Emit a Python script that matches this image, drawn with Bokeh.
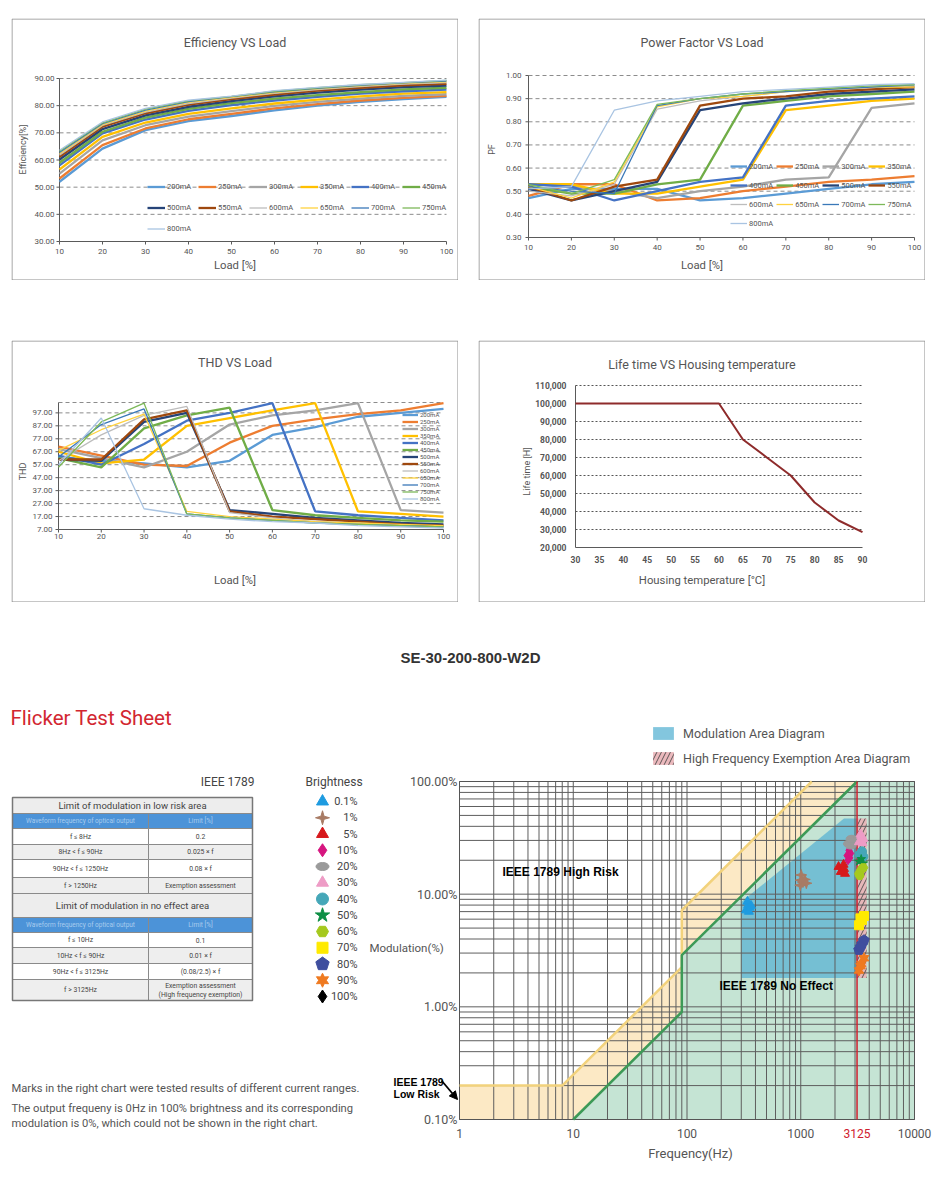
import math
from bokeh.plotting import figure
from bokeh.models import Range1d, Legend, LegendItem, Arrow, NormalHead, Spacer
from bokeh.layouts import row, column
from bokeh.core.properties import value
from bokeh.embed import file_html
from bokeh.resources import INLINE

FONT = "Roboto"
BFONT = "Liberation Sans"
TXT = "#555555"
AX = "#5a5a5a"

# ------------------------------------------------------------------ data
load = [10, 20, 30, 40, 50, 60, 70, 80, 90, 100]
currents = ["200mA", "250mA", "300mA", "350mA", "400mA", "450mA", "500mA",
            "550mA", "600mA", "650mA", "700mA", "750mA", "800mA"]

eff_200 = [52.0, 64.2, 71.0, 74.3, 76.2, 78.3, 80.0, 81.4, 82.4, 83.2]
eff_250 = [53.2, 65.5, 71.6, 75.0, 77.0, 79.0, 80.6, 81.9, 82.9, 83.6]
eff_300 = [55.0, 67.2, 72.8, 76.0, 78.0, 79.9, 81.4, 82.6, 83.6, 84.2]
eff_350 = [56.5, 68.5, 73.8, 77.0, 79.0, 80.8, 82.2, 83.4, 84.4, 85.0]
eff_400 = [58.0, 69.8, 74.9, 78.1, 80.2, 81.9, 83.2, 84.4, 85.3, 85.9]
eff_450 = [59.0, 70.4, 75.6, 78.8, 80.9, 82.6, 83.9, 85.0, 86.0, 86.6]
eff_500 = [60.2, 71.4, 76.4, 79.6, 81.7, 83.4, 84.8, 85.9, 86.8, 87.4]
eff_550 = [61.2, 72.3, 77.2, 80.4, 82.4, 84.1, 85.5, 86.6, 87.5, 88.0]
eff_600 = [61.8, 72.7, 77.6, 80.8, 82.8, 84.5, 85.9, 87.0, 87.9, 88.5]
eff_650 = [62.3, 73.0, 78.0, 81.2, 83.1, 84.8, 86.2, 87.3, 88.2, 88.8]
eff_700 = [62.8, 73.4, 78.4, 81.5, 83.3, 85.1, 86.4, 87.5, 88.4, 89.0]
eff_750 = [63.2, 73.7, 78.7, 81.8, 83.4, 85.3, 86.6, 87.7, 88.5, 89.3]
eff_800 = [63.6, 74.0, 79.0, 82.0, 83.5, 85.5, 86.7, 87.8, 88.6, 89.4]

pf_200 = [0.47, 0.51, 0.51, 0.51, 0.46, 0.47, 0.49, 0.51, 0.53, 0.54]
pf_250 = [0.48, 0.53, 0.53, 0.46, 0.47, 0.50, 0.52, 0.54, 0.55, 0.565]
pf_300 = [0.51, 0.52, 0.50, 0.47, 0.50, 0.52, 0.55, 0.56, 0.86, 0.88]
pf_350 = [0.53, 0.53, 0.49, 0.49, 0.52, 0.55, 0.85, 0.87, 0.89, 0.90]
pf_400 = [0.53, 0.52, 0.46, 0.50, 0.54, 0.56, 0.87, 0.89, 0.90, 0.91]
pf_450 = [0.52, 0.49, 0.49, 0.53, 0.55, 0.87, 0.89, 0.91, 0.92, 0.93]
pf_500 = [0.51, 0.46, 0.50, 0.54, 0.85, 0.88, 0.90, 0.92, 0.93, 0.94]
pf_550 = [0.52, 0.46, 0.52, 0.55, 0.87, 0.90, 0.91, 0.93, 0.94, 0.95]
pf_600 = [0.50, 0.48, 0.53, 0.855, 0.89, 0.91, 0.93, 0.94, 0.95, 0.955]
pf_650 = [0.52, 0.47, 0.54, 0.865, 0.90, 0.91, 0.93, 0.94, 0.95, 0.95]
pf_700 = [0.52, 0.50, 0.49, 0.87, 0.90, 0.92, 0.93, 0.94, 0.95, 0.96]
pf_750 = [0.53, 0.49, 0.55, 0.875, 0.90, 0.92, 0.935, 0.945, 0.955, 0.96]
pf_800 = [0.51, 0.52, 0.85, 0.89, 0.91, 0.93, 0.94, 0.95, 0.96, 0.965]

thd_200 = [63, 60, 58, 55, 60, 80, 86, 94, 97, 100]
thd_250 = [71, 64, 57, 56, 74, 87, 92, 96, 99, 104.5]
thd_300 = [69, 62, 55, 67, 88, 95, 99, 104.5, 22, 20]
thd_350 = [67, 58, 61, 87, 93, 99, 104.5, 21, 19, 17]
thd_400 = [64, 57, 73, 91, 97, 104.5, 21, 18, 16, 14]
thd_450 = [62, 55, 85, 95, 101, 22, 18, 16, 14, 13]
thd_500 = [61, 60, 90, 97, 22, 19, 16, 14, 12, 11]
thd_550 = [61, 61, 92, 99, 21, 17, 15, 13, 11, 10]
thd_600 = [60, 80, 95, 102, 20, 16, 13, 12, 10, 9]
thd_650 = [68, 84, 96, 21, 17, 15, 13, 12, 11, 10]
thd_700 = [63, 88, 100, 19, 16, 14, 12, 11, 10, 9]
thd_750 = [55, 90, 104.5, 19, 16, 14, 12, 11, 10, 9]
thd_800 = [57, 93, 23, 18, 15, 13, 12, 10, 9, 8]

eff_series = [eff_200, eff_250, eff_300, eff_350, eff_400, eff_450, eff_500,
              eff_550, eff_600, eff_650, eff_700, eff_750, eff_800]
pf_series = [pf_200, pf_250, pf_300, pf_350, pf_400, pf_450, pf_500,
             pf_550, pf_600, pf_650, pf_700, pf_750, pf_800]
thd_series = [thd_200, thd_250, thd_300, thd_350, thd_400, thd_450, thd_500,
              thd_550, thd_600, thd_650, thd_700, thd_750, thd_800]

series_colors = ["#5B9BD5", "#ED7D31", "#A5A5A5", "#FFC000", "#4472C4", "#70AD47", "#264478",
                 "#9E480E", "#BDBDBD", "#FFD23F", "#3A78B8", "#7DB95A", "#A9C4E2"]
series_widths = [2.3] * 8 + [1.3] * 5

housing_temp = [30, 35, 40, 45, 50, 55, 60, 65, 70, 75, 80, 85, 90]
life_hours = [100000, 100000, 100000, 100000, 100000, 100000, 100000,
              80000, 70000, 60000, 45000, 35000, 28500]

eff_yticks = [30, 40, 50, 60, 70, 80, 90]
pf_yticks = [0.3, 0.4, 0.5, 0.6, 0.7, 0.8, 0.9, 1.0]
thd_yticks = [7, 17, 27, 37, 47, 57, 67, 77, 87, 97]
thd_top = 105
life_yticks = [20000, 30000, 40000, 50000, 60000, 70000, 80000, 90000, 100000, 110000]

# flicker limits (IEEE 1789)
low_risk_f = [1, 8, 90, 90, 1250]
low_risk_m = [0.2, 0.2, 2.25, 7.2, 100]
no_effect_f = [10, 90, 90, 3125]
no_effect_m = [0.1, 0.9, 2.88, 100]
mod_area_f = [300, 300, 2400, 3125, 3125]
mod_area_m = [1.8, 8.5, 47, 47, 1.8]
exempt_f = [3125, 3800]
exempt_m = [1.8, 47]
freq_ticks = [1, 10, 100, 1000, 10000]
freq_exempt = 3125
mod_ticks = [0.1, 1, 10, 100]

# measured flicker points per brightness
b01_f = [330, 345, 356, 340, 366, 350]
b01_m = [7.2, 8.0, 7.6, 8.6, 7.9, 7.0]
b1_f = [990, 1010, 1045, 1085, 1120, 1000]
b1_m = [12.0, 14.8, 12.8, 13.5, 12.5, 13.3]
b5_f = [2150, 2300, 2380, 2450, 2250, 2400]
b5_m = [17.5, 16.0, 18.3, 15.2, 15.8, 16.8]
b10_f = [2550, 2650, 2700, 2600, 2750]
b10_m = [22.0, 24.5, 21.0, 20.0, 23.0]
b20_f = [2650, 2800, 2900, 2750]
b20_m = [28.0, 31.0, 29.5, 27.0]
b30_f = [3250, 3400, 3550, 3350, 3500]
b30_m = [29.0, 33.0, 31.0, 34.0, 28.5]
b40_f = [3300, 3450, 3550]
b40_m = [22.5, 24.0, 21.5]
b50_f = [3250, 3400, 3550]
b50_m = [19.5, 20.5, 18.8]
b60_f = [3250, 3400, 3550, 3300]
b60_m = [15.2, 16.5, 17.2, 14.6]
b70_f = [3250, 3450, 3600, 3350]
b70_m = [5.3, 5.9, 6.4, 6.1]
b80_f = [3250, 3450, 3600, 3350]
b80_m = [3.2, 3.6, 3.9, 3.4]
b90_f = [3250, 3400, 3600, 3350]
b90_m = [2.1, 2.4, 2.7, 2.3]

bright_labels = ["0.1%", "1%", "5%", "10%", "20%", "30%", "40%", "50%", "60%", "70%", "80%", "90%", "100%"]
bright_colors = ["#1E9BE0", "#A87B64", "#D7191C", "#D6157F", "#9A9A9A", "#EE9CC6", "#45A7B8",
                 "#0E8F45", "#A5C91E", "#FFEA00", "#3F4E9E", "#EF7A20", "#000000"]
bright_markers = ["triangle", "star4", "triangle", "diamond", "ellipse", "triangle", "circle",
                  "star", "hex", "square", "pentagon", "star6", "diamond"]

tbl_title_low = "Limit of modulation in low risk area"
tbl_title_ne = "Limit of modulation in no effect area"
tbl_head = ["Waveform frequency of optical output", "Limit [%]"]
low_freq = ["f ≤ 8Hz", "8Hz < f ≤ 90Hz", "90Hz < f ≤ 1250Hz", "f > 1250Hz"]
low_limit = ["0.2", "0.025 × f", "0.08 × f", "Exemption assessment"]
ne_freq = ["f ≤ 10Hz", "10Hz < f ≤ 90Hz", "90Hz < f ≤ 3125Hz", "f > 3125Hz"]
ne_limit = ["0.1", "0.01 × f", "(0.08/2.5) × f", "Exemption assessment"]


# ------------------------------------------------------------------ helpers
def make_fig(ox, oy, w, h, mapx, mapy, xlog=False, ylog=False):
    """Full-frame figure: the plotting frame covers the whole canvas."""
    p = figure(width=w, height=h,
               x_range=Range1d(mapx(ox), mapx(ox + w)), y_range=Range1d(mapy(oy + h), mapy(oy)),
               x_axis_type="log" if xlog else "linear", y_axis_type="log" if ylog else "linear",
               x_axis_location=None, y_axis_location=None, min_border=0,
               output_backend="svg", toolbar_location=None)
    p.outline_line_color = None
    p.grid.visible = False
    p.background_fill_color = "white"
    p.border_fill_color = "white"
    return p


def txt(p, x, y, t, size, color=TXT, align="center", font=FONT, style="normal", angle=0.0):
    p.text(x=[x], y=[y], text=[t], angle=angle, text_align=align, text_baseline="middle",
           text_font=value(font), text_font_size=size, text_color=color, text_font_style=style)


PW, PH = 447, 262


def small_panel(ox, oy, frame, xr, yr, xticks, yticks, ylabels, grid_ticks, grid_dash, grid_color,
                title, title_y, xlabel, xlabel_y, ylabel, ylabel_x, xtick_y, ytick_x,
                tick_size="8px", tick_style="normal", tick_out=3):
    fl, fr, ft, fb = frame

    def mx(px):
        return xr[0] + (px - fl) / (fr - fl) * (xr[1] - xr[0])

    def my_(py):
        return yr[0] + (fb - py) / (fb - ft) * (yr[1] - yr[0])

    p = make_fig(ox, oy, PW, PH, mx, my_)
    # panel border
    p.quad(left=[mx(ox + 0.5)], right=[mx(ox + PW - 0.5)], bottom=[my_(oy + PH - 0.5)],
           top=[my_(oy + 0.5)], fill_color=None, line_color="#8c8c8c", line_width=1)
    # grid
    p.multi_line(xs=[[xr[0], xr[1]] for _ in grid_ticks], ys=[[t, t] for t in grid_ticks],
                 line_color=grid_color, line_dash=grid_dash, line_width=1)
    # axes
    p.line([xr[0], xr[1]], [yr[0], yr[0]], line_color=AX, line_width=1)
    p.line([xr[0], xr[0]], [yr[0], yr[1]], line_color=AX, line_width=1)
    if tick_out:
        p.multi_line(xs=[[t, t] for t in xticks], ys=[[yr[0], my_(fb + tick_out)] for _ in xticks],
                     line_color=AX, line_width=1)
        p.multi_line(xs=[[xr[0], mx(fl - tick_out)] for _ in yticks], ys=[[t, t] for t in yticks],
                     line_color=AX, line_width=1)
    p.text(x=xticks, y=[my_(xtick_y)] * len(xticks), text=[str(t) for t in xticks],
           text_align="center", text_baseline="middle", text_font=value(FONT),
           text_font_size=tick_size, text_color=TXT, text_font_style=tick_style)
    p.text(x=[mx(ytick_x)] * len(yticks), y=yticks, text=ylabels,
           text_align="right", text_baseline="middle", text_font=value(FONT),
           text_font_size=tick_size, text_color=TXT, text_font_style=tick_style)
    txt(p, mx(ox + PW / 2), my_(title_y), title, "12.5px")
    txt(p, mx(ox + PW / 2), my_(xlabel_y), xlabel, "11.3px")
    txt(p, mx(ylabel_x), my_(oy + PH / 2), ylabel, "9px", angle=math.pi / 2)
    return p


def load_lines(p, series):
    rs = []
    for vals, col, w in zip(series, series_colors, series_widths):
        rs.append(p.line(load, vals, line_color=col, line_width=w))
    return rs


def add_legend(p, rs, loc, ncols, gw, gh, spacing, lw, fsize):
    items = [LegendItem(label=c, renderers=[r]) for c, r in zip(currents, rs)]
    lg = Legend(items=items, location=loc, orientation="horizontal" if ncols > 1 else "vertical",
                ncols=ncols, glyph_width=gw, glyph_height=gh, spacing=spacing,
                label_width=lw, label_height=gh, label_standoff=2, padding=0, margin=0,
                border_line_color=None, background_fill_alpha=0,
                label_text_font=FONT, label_text_font_size=fsize, label_text_color=TXT)
    p.add_layout(lg)


# ------------------------------------------------------------------ efficiency
eff = small_panel(11, 18, (59, 446, 78, 241), (10, 100), (30, 90), load, eff_yticks,
                  [f"{t:.2f}" for t in eff_yticks], eff_yticks[1:], "4 3", "#8c8c8c",
                  "Efficiency VS Load", 42, "Load [%]", 265, "Efficiency[%]", 22, 251, 54)
rs = load_lines(eff, eff_series)
add_legend(eff, rs, (136, 43.5), 6, 18, 17, 4, 27, "7.5px")

# ------------------------------------------------------------------ power factor
pf = small_panel(478, 18, (528, 914, 75, 237), (10, 100), (0.3, 1.0), load, pf_yticks,
                 [f"{t:.2f}" for t in pf_yticks], pf_yticks[1:], "4 3", "#8c8c8c",
                 "Power Factor VS Load", 42, "Load [%]", 265, "PF", 491, 247, 521)
rs = load_lines(pf, pf_series)
add_legend(pf, rs, (252, 49), 4, 17, 16, 3, 24, "7.5px")

# ------------------------------------------------------------------ THD
thd = small_panel(11, 340, (58, 443, 402, 529), (10, 100), (7, thd_top), load, thd_yticks,
                  [f"{t:.2f}" for t in thd_yticks], thd_yticks[1:] + [thd_top], "4 3", "#8c8c8c",
                  "THD VS Load", 362, "Load [%]", 580, "THD", 22, 536, 52)
rs = load_lines(thd, thd_series)
add_legend(thd, rs, (391, 100.5), 1, 16, 7, 0, 24, "6px")

# ------------------------------------------------------------------ life time
life = small_panel(478, 340, (575, 862, 385, 547), (30, 90), (20000, 110000), housing_temp, life_yticks,
                   [f"{t:,}" for t in life_yticks], life_yticks[1:], "2 2", "#555555",
                   "Life time VS Housing temperature", 364, "Housing temperature [°C]", 580,
                   "Life time [H]", 526, 559, 566, tick_size="8.5px", tick_style="bold", tick_out=0)
life.line(housing_temp, life_hours, line_color="#8E2B2B", line_width=2)


# ------------------------------------------------------------------ strip title
def ident(v):
    return v


strip = make_fig(8, 602, 922, 88, ident, ident)
txt(strip, 470, 657, "SE-30-200-800-W2D", "15px", color="#333333", font=BFONT, style="bold")

# ------------------------------------------------------------------ lower left (table + legend)
ll = make_fig(8, 690, 360, 490, ident, ident)
txt(ll, 10, 717, "Flicker Test Sheet", "20.5px", color="#D22630", align="left")
txt(ll, 254, 781, "IEEE 1789", "12px", color="#444444", align="right")

T_L, T_M, T_R = 12, 148, 252
row_edges = [797, 813, 828, 844, 859, 877, 893, 917, 932, 947, 963, 979, 1000]
row_kind = ["title", "head", "w", "g", "w", "g", "title", "head", "w", "g", "w", "g"]
fills = {"title": "#EDEDED", "head": "#4C93D8", "w": "#FFFFFF", "g": "#EEEEEE"}
body_rows = list(zip(low_freq, low_limit)) + list(zip(ne_freq, ne_limit))
bi = 0
for k, kind in enumerate(row_kind):
    top, bot = row_edges[k], row_edges[k + 1]
    mid = (top + bot) / 2
    if kind == "title":
        ll.quad(left=[T_L], right=[T_R], top=[top], bottom=[bot], fill_color=fills[kind],
                line_color="#8a8a8a", line_width=1)
        txt(ll, (T_L + T_R) / 2, mid, tbl_title_low if k == 0 else tbl_title_ne, "9.5px", color="#444444")
    else:
        ll.quad(left=[T_L, T_M], right=[T_M, T_R], top=[top, top], bottom=[bot, bot],
                fill_color=fills[kind], line_color="#8a8a8a", line_width=1)
        if kind == "head":
            txt(ll, (T_L + T_M) / 2, mid, tbl_head[0], "6.5px", color="#A9CCEE")
            txt(ll, (T_M + T_R) / 2, mid, tbl_head[1], "6.5px", color="#A9CCEE")
        else:
            fq, lim = body_rows[bi]
            txt(ll, (T_L + T_M) / 2, mid, fq, "6.8px", color="#444444")
            if bi == 7:
                txt(ll, (T_M + T_R) / 2, mid - 4.5, lim, "6.8px", color="#444444")
                txt(ll, (T_M + T_R) / 2, mid + 4.5, "(High frequency exemption)", "6.8px", color="#444444")
            else:
                txt(ll, (T_M + T_R) / 2, mid, lim, "6.8px", color="#444444")
            bi += 1
ll.quad(left=[T_L], right=[T_R], top=[row_edges[0]], bottom=[row_edges[-1]], fill_color=None,
        line_color="#777777", line_width=1.5)

txt(ll, 305, 781, "Brightness", "12px", color="#444444", align="left")


def lin_poly(cx, cy, n, r_out, r_in=None):
    steps = 2 * n if r_in else n
    xs, ys = [], []
    for k in range(steps):
        a = -math.pi / 2 + k * 2 * math.pi / steps
        r = r_out if (r_in is None or k % 2 == 0) else r_in
        xs.append(cx + r * math.cos(a))
        ys.append(cy + r * math.sin(a))
    return xs, ys


LEG_X = 322
SIMPLE = {"triangle": 12, "diamond": 13, "circle": 12, "star": 15, "hex": 12, "square": 11}
for i, (lab, col, mk) in enumerate(zip(bright_labels, bright_colors, bright_markers)):
    y = 801 + i * 16.25
    if mk in SIMPLE:
        ll.scatter([LEG_X], [y], marker=mk, size=SIMPLE[mk], fill_color=col, line_color=col)
    elif mk == "ellipse":
        ll.ellipse(x=[LEG_X], y=[y], width=13, height=8, fill_color=col, line_color=col)
    else:
        n, ro, ri = {"star4": (4, 7, 2.2), "pentagon": (5, 7, None), "star6": (6, 7, 3.8)}[mk]
        xs, ys = lin_poly(LEG_X, y, n, ro, ri)
        ll.patch(xs, ys, fill_color=col, line_color=col)
    txt(ll, 357, y, lab, "11px", color="#444444", align="right")

txt(ll, 11, 1088, "Marks in the right chart were tested results of different current ranges.", "11.2px",
    align="left")
txt(ll, 11, 1108, "The output frequeny is 0Hz in 100% brightness and its corresponding", "11.2px",
    align="left")
txt(ll, 11, 1123, "modulation is 0%, which could not be shown in the right chart.", "11.2px",
    align="left")

# ------------------------------------------------------------------ flicker chart (log-log)
FL, FR, FT, FB = 459, 914, 781, 1119
PXD_X = (FR - FL) / 4.0
PXD_Y = (FB - FT) / 3.0


def fx(px):
    return 10 ** ((px - FL) / PXD_X)


def my(py):
    return 0.1 * 10 ** ((FB - py) / PXD_Y)


ch = make_fig(368, 690, 570, 490, fx, my, xlog=True, ylog=True)
F0, F1 = freq_ticks[0], freq_ticks[-1]
M0, M1 = mod_ticks[0], mod_ticks[-1]

# regions
ch.patch(no_effect_f + [F1, F1], no_effect_m + [M1, M0],
         fill_color="#C5E4D4", line_color=None, level="image")
ch.patch([F0] + low_risk_f + no_effect_f[::-1], [M0] + low_risk_m + no_effect_m[::-1],
         fill_color="#FCE9C5", line_color=None, level="image")
blue_r = ch.patch(mod_area_f, mod_area_m, fill_color="#5AB3D3", fill_alpha=0.75,
                  line_color=None, level="image")
hatch_r = ch.quad(left=[exempt_f[0]], right=[exempt_f[1]], bottom=[exempt_m[0]], top=[exempt_m[1]],
                  fill_color="#E9B1B6", fill_alpha=0.9, hatch_pattern="/", hatch_color="#444444",
                  hatch_alpha=0.85, hatch_scale=9, hatch_weight=1, line_color=None, level="image")

# grid (major + minor decades)
x_grid = sorted(set(freq_ticks + [m * 10 ** e for e in range(0, 4) for m in range(2, 10)]))
y_grid = sorted(set(mod_ticks + [m * 10 ** e for e in range(-1, 2) for m in range(2, 10)]))
ch.multi_line(xs=[[g, g] for g in x_grid], ys=[[M0, M1] for _ in x_grid],
              line_color="#5e5e5e", line_width=1, level="underlay")
ch.multi_line(xs=[[F0, F1] for _ in y_grid], ys=[[g, g] for g in y_grid],
              line_color="#5e5e5e", line_width=1, level="underlay")
ch.quad(left=[F0], right=[F1], bottom=[M0], top=[M1], fill_color=None, line_color="#555555",
        line_width=1, level="underlay")

# limit lines
ch.line(low_risk_f, low_risk_m, line_color="#F2D27C", line_width=2.5)
ch.line(no_effect_f, no_effect_m, line_color="#3D9A57", line_width=2.5)
ch.line([freq_exempt, freq_exempt], [M0, M1], line_color="#D0202E", line_width=1.5)


def log_polys(fs, ms, n, r_out, r_in=None):
    steps = 2 * n if r_in else n
    xss, yss = [], []
    for f, m in zip(fs, ms):
        xs, ys = [], []
        for k in range(steps):
            a = -math.pi / 2 + k * 2 * math.pi / steps
            r = r_out if (r_in is None or k % 2 == 0) else r_in
            xs.append(f * 10 ** (r * math.cos(a) / PXD_X))
            ys.append(m * 10 ** (-r * math.sin(a) / PXD_Y))
        xss.append(xs)
        yss.append(ys)
    return xss, yss


clusters = [(b01_f, b01_m), (b1_f, b1_m), (b5_f, b5_m), (b10_f, b10_m), (b20_f, b20_m),
            (b30_f, b30_m), (b40_f, b40_m), (b50_f, b50_m), (b60_f, b60_m), (b70_f, b70_m),
            (b80_f, b80_m), (b90_f, b90_m)]
for (fs, ms), col, mk in zip(clusters, bright_colors, bright_markers):
    if mk in SIMPLE:
        ch.scatter(fs, ms, marker=mk, size=9, fill_color=col, line_color=col)
    elif mk == "ellipse":
        ch.ellipse(x=fs, y=ms, width=11, height=7, width_units="screen", height_units="screen",
                   fill_color=col, line_color=col)
    else:
        n, ro, ri = {"star4": (4, 5.5, 1.8), "pentagon": (5, 5.5, None), "star6": (6, 5.5, 3.0)}[mk]
        xs, ys = log_polys(fs, ms, n, ro, ri)
        ch.patches(xs, ys, fill_color=col, line_color=col)

# tick labels
ch.text(x=freq_ticks, y=[my(1133)] * len(freq_ticks), text=[str(t) for t in freq_ticks],
        text_align="center", text_baseline="middle", text_font=value(FONT), text_font_size="12px",
        text_color=TXT)
txt(ch, freq_exempt, my(1133), str(freq_exempt), "12px", color="#D0202E")
ch.text(x=[fx(457)] * len(mod_ticks), y=mod_ticks, text=[f"{t:.2f}%" for t in mod_ticks],
        text_align="right", text_baseline="middle", text_font=value(FONT), text_font_size="12.5px",
        text_color=TXT)
txt(ch, fx(690), my(1153), "Frequency(Hz)", "13px")
txt(ch, fx(369), my(947), "Modulation(%)", "11.5px", align="left")

# area legend
ch.add_layout(Legend(items=[LegendItem(label="Modulation Area Diagram", renderers=[blue_r]),
                            LegendItem(label="High Frequency Exemption Area Diagram", renderers=[hatch_r])],
                     location=(650 - 368, 1180 - 766), glyph_width=26, glyph_height=16, label_height=16,
                     spacing=9, label_standoff=7, padding=0, margin=0, border_line_color=None,
                     background_fill_alpha=0, label_text_font=FONT, label_text_font_size="12.5px",
                     label_text_color=TXT))

# annotations
txt(ch, fx(502), my(871), "IEEE 1789 High Risk", "12px", color="black", align="left", font=BFONT, style="bold")
txt(ch, fx(719), my(985), "IEEE 1789 No Effect", "12px", color="black", align="left", font=BFONT, style="bold")
txt(ch, fx(393), my(1081), "IEEE 1789", "10.5px", color="black", align="left", font=BFONT, style="bold")
txt(ch, fx(393), my(1093), "Low Risk", "10.5px", color="black", align="left", font=BFONT, style="bold")
ch.add_layout(Arrow(end=NormalHead(size=8, fill_color="black", line_color="black"),
                    x_start=fx(441), y_start=my(1080), x_end=fx(457), y_end=my(1099),
                    line_color="black", line_width=1.8))

# ------------------------------------------------------------------ layout
page = column(
    Spacer(height=18),
    row(Spacer(width=11), eff, Spacer(width=20), pf),
    Spacer(height=60),
    row(Spacer(width=11), thd, Spacer(width=20), life),
    row(Spacer(width=8), strip),
    row(Spacer(width=8), ll, ch),
)

with open("out.html", "w") as fh:
    fh.write(file_html(page, INLINE, title="SE-30-200-800-W2D"))
